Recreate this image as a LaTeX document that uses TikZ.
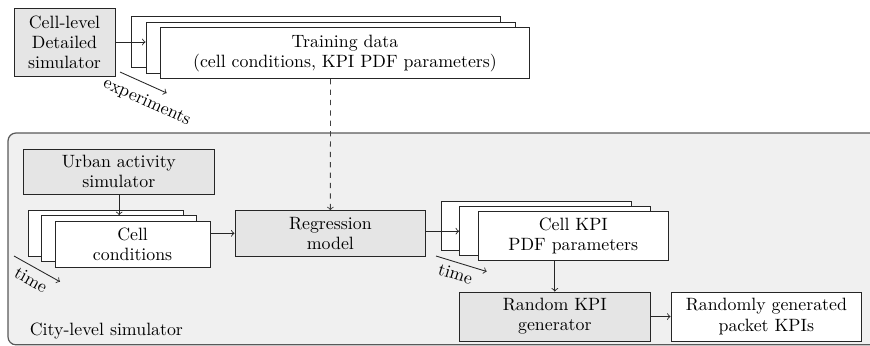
\documentclass[tikz,border=0pt]{standalone}
\usepackage{fontspec}
\usetikzlibrary{calc}
\newcommand\pxu{0.578pt}
\begin{document}
\begin{tikzpicture}[x=\pxu, y=-\pxu, font=\fontsize{10.3}{11.6}\selectfont,
  box/.style={draw=black!85, line width=0.55pt, fill=white, inner sep=0pt, align=center},
  gbox/.style={box, fill=gray!20},
  arr/.style={->, line width=0.5pt, draw=black!85},
  bigbox/.style={draw=black!65, line width=0.7pt, fill=gray!12, rounded corners=4.6pt}]
\useasboundingbox (0,0) rectangle (870,345);
% city-level background
\draw[bigbox] (8,133) rectangle (900,344.8);
\node[anchor=base west, inner sep=0pt] (citylbl) at (29.5,335) {City-level simulator};
% cell-level detailed simulator
\node[gbox, minimum width=101*\pxu, minimum height=68*\pxu] (cls) at (64.5,42) {Cell-level\\Detailed\\simulator};
% training data stack
\node[box, minimum width=369*\pxu, minimum height=51*\pxu] (tb) at (316,42.2) {};
\node[box, minimum width=369*\pxu, minimum height=51*\pxu] (tm) at (330.5,47.7) {};
\node[box, minimum width=369*\pxu, minimum height=51*\pxu] (tf) at (345,53.2) {Training data\\(cell conditions, KPI PDF parameters)};
% urban activity simulator
\node[gbox, minimum width=191*\pxu, minimum height=45.3*\pxu] (urb) at (118.8,171.7) {Urban activity\\simulator};
% cell conditions stack
\node[box, minimum width=155*\pxu, minimum height=46*\pxu] (cb) at (105.8,233) {};
\node[box, minimum width=155*\pxu, minimum height=46*\pxu] (cm) at (119.2,238.6) {};
\node[box, minimum width=155*\pxu, minimum height=46*\pxu] (cf) at (132.6,244.2) {Cell\\conditions};
% regression model
\node[gbox, minimum width=190.7*\pxu, minimum height=45.3*\pxu] (rg) at (330.35,233.35) {Regression\\model};
% KPI stack
\node[box, minimum width=190.5*\pxu, minimum height=49.3*\pxu] (kb) at (536.3,226.1) {};
\node[box, minimum width=190.5*\pxu, minimum height=49.3*\pxu] (km) at (554.8,231.2) {};
\node[box, minimum width=190.5*\pxu, minimum height=49.3*\pxu] (kf) at (573.3,236.2) {Cell KPI\\PDF parameters};
% random KPI generator and output
\node[gbox, minimum width=190.7*\pxu, minimum height=49*\pxu] (rn) at (554.8,316.5) {Random KPI\\generator};
\node[box, minimum width=190.7*\pxu, minimum height=49*\pxu] (out) at (766.35,316.5) {Randomly generated\\packet KPIs};
% connectors
\draw[arr] (cls.east) -- (cls.east -| tm.west);
\draw[arr, dashed, draw=black!75] (tf.south -| tm.south) -- (rg.north);
\draw[arr] (urb.south) -- (urb.south -| cm.north) -- (cm.north);
\draw[arr] (cf.east |- rg.west) -- (rg.west);
\draw[arr] (rg.east |- km.west) -- (km.west);
\draw[arr] (rn.north |- kf.south) -- (rn.north);
\draw[arr] (rn.east) -- (out.west);
% direction arrows
\coordinate (e1) at (120,72);
\coordinate (e2) at (166.7,93);
\draw[arr] (e1) -- (e2) node[pos=0.72, sloped, below, inner sep=5pt] (lexp) {experiments};
\coordinate (t1) at (14,256);
\coordinate (t2) at (60,281.7);
\draw[arr] (t1) -- (t2) node[pos=0.5, sloped, below, inner sep=3.5pt] (ltime1) {time};
\coordinate (t3) at (436,256);
\coordinate (t4) at (486.7,271.5);
\draw[arr] (t3) -- (t4) node[pos=0.45, sloped, below, inner sep=3pt] (ltime2) {time};
\end{tikzpicture}
\end{document}
